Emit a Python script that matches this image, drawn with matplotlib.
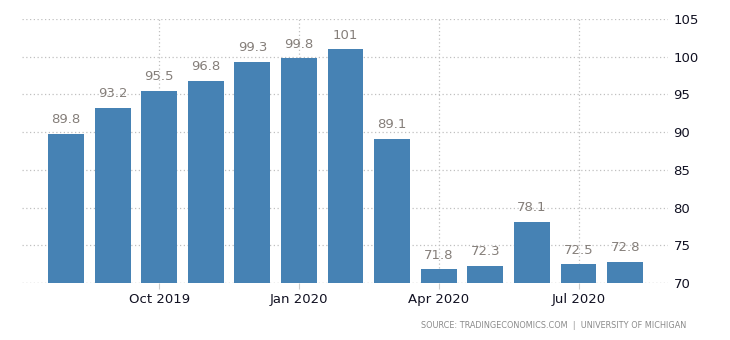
import matplotlib
matplotlib.use("Agg")
import matplotlib.pyplot as plt

months = ["Aug 2019", "Sep 2019", "Oct 2019", "Nov 2019", "Dec 2019", "Jan 2020",
          "Feb 2020", "Mar 2020", "Apr 2020", "May 2020", "Jun 2020", "Jul 2020", "Aug 2020"]
values = [89.8, 93.2, 95.5, 96.8, 99.3, 99.8, 101, 89.1, 71.8, 72.3, 78.1, 72.5, 72.8]
value_labels = ["89.8", "93.2", "95.5", "96.8", "99.3", "99.8", "101", "89.1",
                "71.8", "72.3", "78.1", "72.5", "72.8"]
xtick_labels = ["Oct 2019", "Jan 2020", "Apr 2020", "Jul 2020"]
yticks = [70, 75, 80, 85, 90, 95, 100, 105]

plt.rcParams['font.family'] = ['DejaVu Sans']
fig = plt.figure(figsize=(7.3, 3.4), dpi=100)
ax = fig.add_axes([22/730, 1-283/340, (668-22)/730, (283-19)/340])

x = list(range(len(values)))
ax.bar(x, [v - 70 for v in values], bottom=70, width=0.77, color="#4682b4", zorder=3)
for xi, v, lab in zip(x, values, value_labels):
    ax.text(xi, v + 1.0, lab, ha="center", va="bottom", fontsize=9.5, color="#857f7a", zorder=4)

ax.set_ylim(70, 105)
ax.set_xlim(-0.944, 12.92)
ax.set_yticks(yticks)
ax.yaxis.tick_right()
ax.tick_params(axis="y", length=0, pad=4, labelsize=9.5, labelcolor="#111122")
tick_pos = [months.index(m) for m in xtick_labels]
ax.set_xticks(tick_pos)
ax.set_xticklabels(xtick_labels)
ax.tick_params(axis="x", length=4, color="#cccccc", pad=3, labelsize=9.5, labelcolor="#111122")
ax.grid(True, axis="both", linestyle=(0, (1, 2)), color="#c0c0c0", linewidth=0.9, zorder=0)
for s in ax.spines.values():
    s.set_visible(False)
ax.axhline(70, linestyle=(0, (1, 2)), color="#c0c0c0", linewidth=0.9, zorder=1)

fig.text(686/730, 1-325/340, "SOURCE: TRADINGECONOMICS.COM  |  UNIVERSITY OF MICHIGAN",
         ha="right", va="center", fontsize=5.9, color="#8a8a8a")

fig.savefig("out.png", dpi=100)
